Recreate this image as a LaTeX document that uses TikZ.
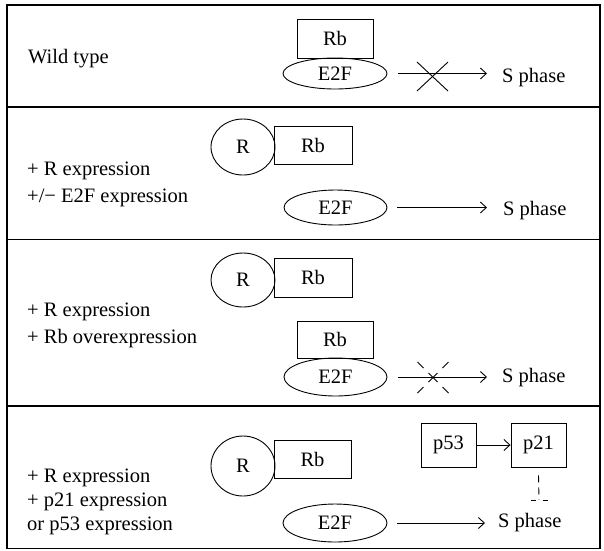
\documentclass[tikz,border=0pt]{standalone}
\usepackage{fontspec}
\setmainfont{Liberation Serif}
\newfontfamily\figserif{Liberation Serif}
\usetikzlibrary{shapes.geometric,arrows.meta,calc}

\begin{document}
\begin{tikzpicture}[x=1pt,y=-1pt,
  every node/.style={font=\figserif\fontsize{20.5}{24}\selectfont},
  frame/.style={line width=1.3pt},
  box/.style={draw, line width=0.9pt, rectangle, inner sep=0pt},
  oval/.style={draw, line width=0.9pt, ellipse, inner sep=0pt},
  lbl/.style={anchor=base west, inner sep=0pt},
  arr/.style={line width=0.9pt, -{Straight Barb[length=6pt,width=11pt,line width=0.9pt]}},
  blockline/.style={line width=0.9pt},
  inhib/.style={line width=0.9pt, dash pattern=on 7pt off 5pt}
]
\useasboundingbox (0,0) rectangle (604,550);

% outer frame and panel dividers
\draw[frame] (7,5) rectangle (600,548.5);
\draw[frame] (7,107) -- (600,107);
\draw[frame] (7,239.5) -- (600,239.5);
\draw[frame] (7,406) -- (600,406);

% ---- panel 1: wild type ----
\node[lbl] (wt) at (28,63) {Wild type};
\node[box, minimum width=76pt, minimum height=39pt] (rb1) at (335,38.5) {Rb};
\node[oval, minimum width=104pt, minimum height=31pt] (e1) at (335,73.5) {E2F};
\node[lbl] (s1) at (502,82) {S phase};
\draw[arr] ([xshift=11pt]e1.east) -- ([xshift=-15pt]e1.east -| s1.west);
\coordinate (k1) at (432.5,76.5);
\draw[blockline] (k1) ++(-15.5,-14.5) -- ++(31,29);
\draw[blockline] (k1) ++(15.5,-14.5) -- ++(-31,29);

% ---- panel 2: R expression, +/- E2F ----
\node[lbl] (l2a) at (27,175) {+ R expression};
\node[lbl] (l2b) at (27,202) {+/\textminus\ E2F expression};
\node[oval, minimum width=64pt, minimum height=56pt] (c2) at (243,147) {R};
\node[box, minimum width=78pt, minimum height=38pt] (rb2) at (313,145) {Rb};
\node[oval, minimum width=103pt, minimum height=35pt] (e2) at (335.5,207.5) {E2F};
\node[lbl] (s2) at (503,215) {S phase};
\draw[arr] ([xshift=10pt]e2.east) -- ([xshift=-16pt]e2.east -| s2.west);

% ---- panel 3: R expression, Rb overexpression ----
\node[lbl] (l3a) at (27,316) {+ R expression};
\node[lbl] (l3b) at (27,343) {+ Rb overexpression};
\node[oval, minimum width=64pt, minimum height=54pt] (c3) at (243,280) {R};
\node[box, minimum width=78pt, minimum height=39pt] (rb3) at (313,277.5) {Rb};
\node[box, minimum width=76pt, minimum height=37pt] (rb3b) at (335,339.5) {Rb};
\node[oval, minimum width=103pt, minimum height=38pt] (e3) at (335.5,377) {E2F};
\node[lbl] (s3) at (502,382) {S phase};
\draw[arr] ([xshift=11pt]e3.east) -- ([xshift=-15pt]e3.east -| s3.west);
% broken (dashed) block across the arrow
\coordinate (k3) at (433,377.5);
\draw[blockline]
  (k3) ++(-15.5,-15.5) -- ++(6,6)  (k3) ++(-4.5,-4.5) -- ++(9,9)  (k3) ++(9.5,9.5) -- ++(6,6)
  (k3) ++(15.5,-15.5) -- ++(-6,6)  (k3) ++(4.5,-4.5) -- ++(-9,9)  (k3) ++(-9.5,9.5) -- ++(-6,6);

% ---- panel 4: R expression, p21 or p53 ----
\node[lbl] (l4a) at (27,482) {+ R expression};
\node[lbl] (l4b) at (27,506) {+ p21 expression};
\node[lbl] (l4c) at (27,530) {or p53 expression};
\node[oval, minimum width=64pt, minimum height=60pt] (c4) at (243,466) {R};
\node[box, minimum width=77pt, minimum height=38pt] (rb4) at (312.5,459) {Rb};
\node[oval, minimum width=104pt, minimum height=38pt] (e4) at (335,523) {E2F};
\node[lbl] (s4) at (498,527) {S phase};
\draw[arr] ([xshift=10pt]e4.east) -- ([xshift=-13pt]e4.east -| s4.west);
\node[box, minimum width=55pt, minimum height=44pt] (p53) at (448.5,445) {p53};
\node[box, minimum width=55pt, minimum height=44pt] (p21) at (538.5,445) {p21};
\draw[arr] (p53) -- (p21);
\coordinate (bar) at (539,500);
\draw[inhib] ($(p21.south)+(0,8)$) -- (bar);
\draw[line width=0.9pt, dash pattern=on 5pt off 7pt] ($(bar)+(-8.5,0)$) -- ($(bar)+(8.5,0)$);
\end{tikzpicture}
\end{document}
